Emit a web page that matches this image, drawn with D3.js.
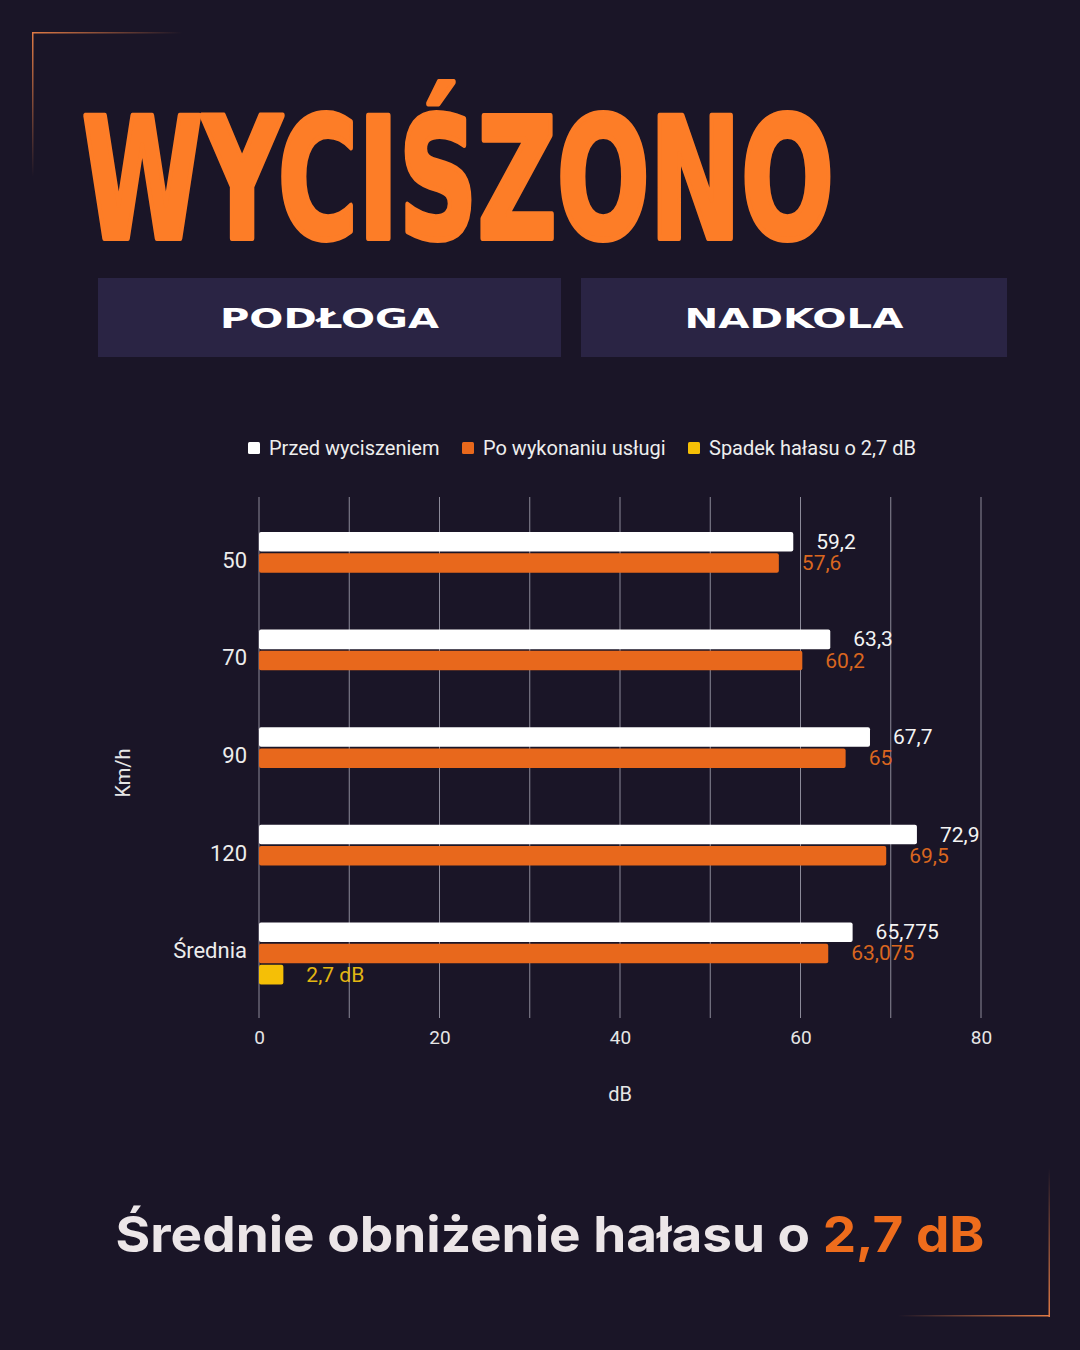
<!DOCTYPE html>
<html lang="pl">
<head>
  <meta charset="UTF-8">
  <title>Wyciszono</title>
  <script src="https://d3js.org/d3.v7.min.js"></script>
  <style>
    body { margin: 0; background: #1a1527; }
    svg { display: block; }
  </style>
</head>
<body>
  <script>
    // data
    const categories = ["50", "70", "90", "120", "Średnia"];
    const before = [59.2, 63.3, 67.7, 72.9, 65.775];
    const after = [57.6, 60.2, 65, 69.5, 63.075];
    const drop = [null, null, null, null, 2.7];
    const seriesNames = ["Przed wyciszeniem", "Po wykonaniu usługi", "Spadek hałasu o 2,7 dB"];
    const seriesColors = ["#ffffff", "#e8681c", "#f5bf06"];
    const labelColors = ["#f4f4f4", "#d9661f", "#e3b512"];
    const xTicks = [0, 20, 40, 60, 80];

    const W = 1080, H = 1350;
    const svg = d3.select("body").append("svg")
        .attr("width", W)
        .attr("height", H);

    // corner brackets
    const defs = svg.append("defs");
    function grad(id, x1, y1, x2, y2) {
      const g = defs.append("linearGradient").attr("id", id)
          .attr("x1", x1).attr("y1", y1).attr("x2", x2).attr("y2", y2);
      g.append("stop").attr("offset", "0%").attr("stop-color", "#e07a45").attr("stop-opacity", 1);
      g.append("stop").attr("offset", "100%").attr("stop-color", "#e07a45").attr("stop-opacity", 0);
    }
    grad("gh1", "0", "0", "1", "0");
    grad("gv1", "0", "0", "0", "1");
    grad("gh2", "1", "0", "0", "0");
    grad("gv2", "0", "1", "0", "0");
    svg.append("rect").attr("x", 32).attr("y", 32).attr("width", 150).attr("height", 1.5).attr("fill", "url(#gh1)");
    svg.append("rect").attr("x", 32).attr("y", 32).attr("width", 1.5).attr("height", 145).attr("fill", "url(#gv1)");
    svg.append("rect").attr("x", 898).attr("y", 1315).attr("width", 152).attr("height", 1.5).attr("fill", "url(#gh2)");
    svg.append("rect").attr("x", 1048.5).attr("y", 1168).attr("width", 1.5).attr("height", 149).attr("fill", "url(#gv2)");

    // big title, squeezed horizontally to the reference width
    const title = svg.append("text")
        .attr("x", 0)
        .attr("y", 0)
        .attr("font-family", "DejaVu Sans")
        .attr("font-weight", "bold")
        .attr("font-size", 168)
        .attr("fill", "#fd7d27")
        .attr("stroke", "#fd7d27")
        .attr("stroke-width", 6)
        .attr("stroke-linejoin", "round")
        .text("WYCIŚZONO");
    const tw = title.node().getComputedTextLength();
    title.attr("transform", `translate(82,238) scale(${752 / tw},1)`);

    // buttons
    const buttons = [
      { label: "PODŁOGA", x: 98, w: 463 },
      { label: "NADKOLA", x: 581, w: 426 }
    ];
    svg.selectAll("rect.btn")
        .data(buttons)
        .enter()
        .append("rect")
        .attr("class", "btn")
        .attr("x", d => d.x)
        .attr("y", 278)
        .attr("width", d => d.w)
        .attr("height", 79)
        .attr("fill", "#2a2444");
    svg.selectAll("text.btn")
        .data(buttons)
        .enter()
        .append("text")
        .attr("class", "btn")
        .attr("x", d => d.x + d.w / 2)
        .attr("y", 328)
        .attr("text-anchor", "middle")
        .attr("font-family", "DejaVu Sans")
        .attr("font-weight", "bold")
        .attr("font-size", 27)
        .attr("textLength", 219)
        .attr("lengthAdjust", "spacingAndGlyphs")
        .attr("fill", "#ffffff")
        .text(d => d.label);

    // legend
    const legendX = [248, 462, 688];
    const legend = svg.selectAll("g.legend")
        .data(seriesNames)
        .enter()
        .append("g")
        .attr("class", "legend")
        .attr("transform", (d, i) => `translate(${legendX[i]},442)`);
    legend.append("rect")
        .attr("width", 12).attr("height", 12).attr("rx", 1.5)
        .attr("fill", (d, i) => seriesColors[i]);
    legend.append("text")
        .attr("x", 21).attr("y", 13)
        .attr("font-family", "Roboto, Arial, sans-serif")
        .attr("font-size", 20)
        .attr("fill", "#eeeeee")
        .text(d => d);

    // chart
    const plotTop = 497, plotBottom = 1018;
    const x = d3.scaleLinear().domain([0, 80]).range([259, 981]);
    const y = d3.scaleBand().domain(categories).range([512, 1000]);
    const sub = d3.scaleBand().domain([0, 1, 2]).range([20, 82]).paddingInner(0.08);

    // gridlines
    svg.selectAll("line.grid")
        .data(d3.range(0, 81, 10))
        .enter()
        .append("line")
        .attr("class", "grid")
        .attr("x1", d => x(d)).attr("x2", d => x(d))
        .attr("y1", plotTop).attr("y2", plotBottom)
        .attr("stroke", "#8c8a99")
        .attr("stroke-width", 1);

    // x axis tick labels
    const xAxis = svg.append("g")
        .attr("transform", `translate(0,${plotBottom})`)
        .call(d3.axisBottom(x).tickValues(xTicks).tickSize(0).tickPadding(13));
    xAxis.select(".domain").remove();
    xAxis.selectAll("text")
        .attr("font-family", "Roboto, Arial, sans-serif")
        .attr("font-size", 19)
        .attr("fill", "#e6e6e6");

    // y axis labels
    const yAxis = svg.append("g")
        .attr("transform", "translate(259,0)")
        .call(d3.axisLeft(y).tickSize(0).tickPadding(12));
    yAxis.select(".domain").remove();
    yAxis.selectAll("text")
        .attr("font-family", "Roboto, Arial, sans-serif")
        .attr("font-size", 22)
        .attr("fill", "#ececec");

    // axis titles
    svg.append("text")
        .attr("x", 620).attr("y", 1101)
        .attr("text-anchor", "middle")
        .attr("font-family", "Roboto, Arial, sans-serif")
        .attr("font-size", 20)
        .attr("fill", "#e6e6e6")
        .text("dB");
    svg.append("text")
        .attr("transform", "translate(130,773) rotate(-90)")
        .attr("text-anchor", "middle")
        .attr("font-family", "Roboto, Arial, sans-serif")
        .attr("font-size", 20)
        .attr("fill", "#e6e6e6")
        .text("Km/h");

    // bars
    const series = [before, after, drop];
    const rows = [];
    series.forEach((vals, s) => {
      vals.forEach((v, i) => {
        if (v !== null) rows.push({ cat: categories[i], s: s, v: v });
      });
    });
    const fmt = d => {
      const t = String(d.v).replace(".", ",");
      return d.s === 2 ? t + " dB" : t;
    };

    svg.selectAll("rect.bar")
        .data(rows)
        .enter()
        .append("rect")
        .attr("class", "bar")
        .attr("x", x(0))
        .attr("y", d => y(d.cat) + sub(d.s))
        .attr("width", d => x(d.v) - x(0))
        .attr("height", sub.bandwidth())
        .attr("rx", 2)
        .attr("fill", d => seriesColors[d.s]);

    svg.selectAll("text.val")
        .data(rows)
        .enter()
        .append("text")
        .attr("class", "val")
        .attr("x", d => x(d.v) + 23)
        .attr("y", d => y(d.cat) + sub(d.s) + sub.bandwidth() / 2 + 7)
        .attr("font-family", "Roboto, Arial, sans-serif")
        .attr("font-size", 21)
        .attr("fill", d => labelColors[d.s])
        .text(fmt);

    // bottom caption
    const cap = svg.append("text")
        .attr("x", 550).attr("y", 1252)
        .attr("text-anchor", "middle")
        .attr("font-family", "Inter, 'Open Sans', sans-serif")
        .attr("font-weight", 700)
        .attr("font-size", 50)
        .attr("textLength", 869)
        .attr("lengthAdjust", "spacingAndGlyphs");
    cap.append("tspan").attr("fill", "#ece6e8").text("Średnie obniżenie hałasu o ");
    cap.append("tspan").attr("fill", "#ee6c1c").text("2,7 dB");
  </script>
</body>
</html>
